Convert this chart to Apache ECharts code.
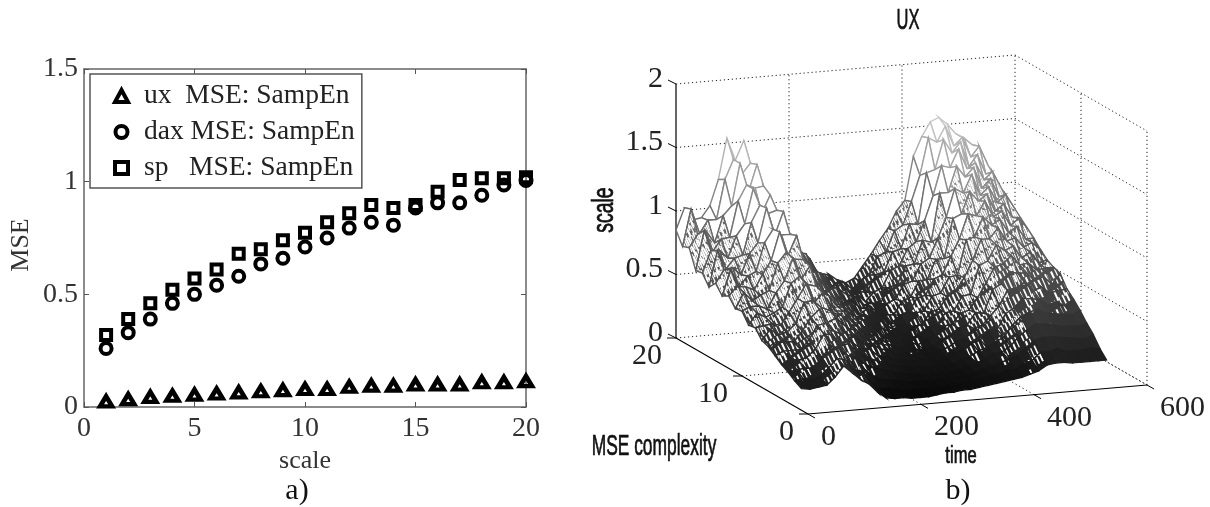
<!DOCTYPE html>
<html><head><meta charset="utf-8">
<style>html,body{margin:0;padding:0;background:#fff}#c{width:1210px;height:507px}</style>
<script src="https://cdn.jsdelivr.net/npm/echarts@6/dist/echarts.min.js"></script>
</head><body><div id="c"></div>
<script>
const scales=[1,2,3,4,5,6,7,8,9,10,11,12,13,14,15,16,17,18,19,20];
const uxMSE=[.025,.035,.045,.05,.055,.06,.065,.07,.075,.08,.08,.09,.095,.095,.10,.10,.10,.11,.11,.115];
const daxMSE=[.26,.33,.39,.46,.50,.54,.58,.635,.66,.71,.75,.794,.82,.807,.883,.906,.906,.94,.985,1.005];
const spMSE=[.32,.39,.46,.52,.57,.61,.68,.70,.74,.773,.82,.86,.896,.883,.896,.955,1.007,1.015,1.015,1.02];
const seriesNames=['ux  MSE: SampEn','dax MSE: SampEn','sp   MSE: SampEn'];
const xTicks3D=[0,200,400,600], yTicks3D=[0,10,20], zTicks3D=[0,.5,1,1.5,2];
const timeSamples=[0,15,30,45,60,75,90,105,120,135,150,165,180,195,210,225,240,255,270,285,300,315,330,345,360,375,390,405,420,435,450,465,480,495,510,525,540];
const surfaceZ=[
[.17,.16,.17,.18,.24,.32,.26,.20,.16,.09,.04,.03,.03,.02,.02,.02,.03,.04,.04,.05,.05,.06,.07,.08,.09,.10,.11,.13,.15,.19,.20,.20,.19,.19,.19,.19,.19],
[.20,.21,.20,.22,.28,.35,.33,.25,.23,.14,.08,.08,.07,.05,.05,.05,.05,.05,.06,.07,.07,.07,.09,.11,.11,.14,.14,.18,.20,.26,.26,.28,.25,.25,.25,.26,.25],
[.24,.25,.26,.25,.33,.42,.39,.33,.31,.21,.15,.12,.11,.10,.08,.08,.08,.08,.08,.09,.08,.09,.11,.13,.15,.17,.19,.21,.27,.32,.34,.34,.33,.32,.31,.30,.33],
[.27,.31,.29,.31,.37,.48,.47,.38,.39,.26,.21,.18,.16,.14,.12,.11,.10,.10,.09,.10,.09,.11,.13,.15,.17,.21,.22,.26,.33,.38,.42,.41,.40,.38,.38,.37,.39],
[.31,.34,.34,.34,.41,.52,.53,.46,.43,.33,.27,.23,.20,.18,.15,.14,.13,.12,.12,.12,.11,.12,.15,.17,.21,.23,.27,.30,.39,.45,.48,.50,.46,.45,.44,.43,.46],
[.35,.38,.38,.37,.45,.55,.61,.50,.53,.36,.32,.27,.26,.20,.19,.16,.15,.14,.15,.13,.12,.14,.18,.19,.24,.26,.32,.33,.45,.49,.56,.55,.54,.49,.51,.47,.52],
[.37,.45,.40,.42,.48,.64,.65,.59,.56,.44,.36,.34,.28,.27,.22,.21,.17,.17,.15,.16,.13,.17,.19,.23,.25,.32,.34,.41,.48,.60,.61,.65,.58,.60,.55,.56,.57],
[.44,.45,.46,.44,.54,.64,.75,.60,.67,.47,.43,.37,.35,.28,.26,.22,.21,.18,.19,.16,.15,.17,.22,.24,.30,.32,.41,.40,.58,.62,.71,.69,.69,.62,.65,.58,.66],
[.43,.52,.48,.51,.55,.73,.78,.71,.69,.56,.47,.44,.37,.34,.28,.26,.21,.21,.19,.19,.16,.20,.22,.29,.30,.38,.40,.49,.60,.72,.74,.80,.72,.73,.67,.68,.68],
[.51,.54,.54,.51,.63,.72,.89,.72,.82,.58,.55,.45,.44,.35,.33,.27,.26,.20,.22,.18,.19,.19,.26,.27,.36,.37,.48,.49,.71,.74,.86,.81,.84,.74,.78,.69,.71],
[.50,.62,.55,.59,.62,.83,.91,.85,.84,.69,.57,.54,.45,.43,.34,.33,.25,.26,.22,.22,.18,.24,.25,.34,.36,.45,.49,.59,.72,.88,.88,.96,.85,.87,.79,.82,.76],
[.57,.64,.63,.60,.72,.82,1.04,.85,1.00,.68,.67,.55,.53,.43,.41,.32,.32,.23,.27,.21,.23,.22,.31,.32,.43,.45,.57,.58,.85,.87,1.02,.95,.99,.88,.92,.82,.82],
[.54,.74,.60,.68,.71,.93,1.03,.98,.98,.82,.67,.66,.51,.52,.40,.39,.30,.29,.25,.26,.21,.27,.29,.39,.41,.53,.56,.70,.83,1.02,1.00,1.11,.98,1.02,.90,.95,.87],
[.61,.71,.72,.66,.82,.90,1.17,.95,1.13,.79,.78,.64,.61,.49,.47,.37,.36,.27,.31,.23,.25,.24,.34,.37,.49,.50,.65,.65,.96,.99,1.16,1.08,1.13,.99,1.04,.93,.92],
[.55,.83,.68,.76,.78,1.03,1.16,1.09,1.11,.94,.76,.76,.60,.59,.46,.46,.34,.33,.28,.29,.23,.30,.33,.44,.46,.59,.63,.78,.94,1.16,1.12,1.26,1.09,1.15,1.02,1.08,.97],
[.63,.80,.80,.73,.90,.99,1.26,1.06,1.20,.90,.90,.73,.70,.57,.55,.43,.42,.31,.34,.27,.28,.27,.39,.41,.55,.56,.74,.72,1.10,1.10,1.30,1.21,1.28,1.11,1.18,1.03,1.02],
[.62,.93,.76,.85,.86,1.14,1.26,1.23,1.24,1.05,.87,.85,.69,.68,.53,.50,.39,.37,.32,.33,.26,.33,.36,.49,.52,.65,.70,.86,1.05,1.28,1.26,1.40,1.24,1.28,1.14,1.20,1.07],
[.77,.87,.89,.79,1.00,1.07,1.40,1.17,1.38,1.02,1.03,.81,.80,.65,.62,.48,.47,.35,.38,.30,.31,.30,.43,.45,.60,.62,.81,.80,1.20,1.22,1.45,1.34,1.42,1.22,1.31,1.15,1.13],
[.75,1.04,.84,.94,.94,1.25,1.40,1.28,1.36,1.18,.98,.97,.78,.75,.60,.57,.44,.41,.36,.36,.30,.36,.40,.54,.57,.73,.77,.95,1.15,1.44,1.40,1.52,1.36,1.42,1.26,1.34,1.19],
[.85,1.02,.92,.93,1.02,1.22,1.54,1.36,1.51,1.17,1.08,.97,.85,.76,.66,.57,.49,.40,.40,.35,.32,.35,.44,.53,.63,.72,.85,.93,1.27,1.42,1.53,1.56,1.50,1.42,1.38,1.32,1.25]
];

const view={ox:808,oy:414,tx:339/600,ty:-29/600,sx:-132/20,sy:-76/20,zy:-127};
const project=(t,s,z)=>[view.ox+t*view.tx+s*view.sx, view.oy+t*view.ty+s*view.sy+z*view.zy];
const greyLevel=z=>Math.max(0,Math.min(205,Math.round(z<1?6+112*z:118+170*(z-1))));
const rgb=v=>'rgb('+v+','+v+','+v+')';
const tileCache={};
const TILE=64;
function faceFill(e,z){
  const band=Math.floor(Math.max(0,e)*25),key=band+'_'+greyLevel(z);
  if(e<.15)return rgb(greyLevel(z));
  if(tileCache[key])return tileCache[key];
  const cv=document.createElement('canvas');cv.width=cv.height=TILE;
  const g=cv.getContext('2d');
  const white=e>=.9;
  g.fillStyle=white?'#fff':rgb(greyLevel(z));g.fillRect(0,0,TILE,TILE);
  if(!white){
    const cover=Math.min(.68,(band/25-.12)*1.2),n=Math.round(cover*TILE*TILE/10);
    g.strokeStyle='#fff';g.lineCap='butt';
    for(let k=1;k<=n;k++){const x=(k*.618034%1)*TILE,y=(k*.754878%1)*TILE,l=1+(k%4)*.35;
      g.lineWidth=1.2+(k%3)*.4;
      [[0,0],[-TILE,0],[0,-TILE],[-TILE,-TILE]].forEach(o=>{g.beginPath();g.moveTo(x+o[0],y+o[1]);g.lineTo(x+o[0]+2.3*l,y+o[1]+5*l);g.stroke();});}
  }
  return tileCache[key]={image:cv,repeat:'repeat'};
}

const cells=[];
for(let i=surfaceZ.length-1;i>0;i--){for(let j=timeSamples.length-2;j>=0;j--){
  const a=project(timeSamples[j],scales[i],surfaceZ[i][j]);cells.push([a[0],a[1],i,j]);
}}
const segs=[];
const wall=(a,b,dot)=>{segs.push([...project(...a),...project(...b),dot]);};
const tMax=600,sMax=20,zMax=2;
zTicks3D.forEach(z=>{wall([0,sMax,z],[tMax,sMax,z],1);wall([tMax,sMax,z],[tMax,0,z],1);});
xTicks3D.slice(1).forEach(t=>{wall([t,sMax,0],[t,sMax,zMax],1);wall([t,0,0],[t,sMax,0],1);});
yTicks3D.slice(0,2).forEach(s=>{wall([tMax,s,0],[tMax,s,zMax],1);wall([0,s,0],[tMax,s,0],s?1:0);});
wall([0,sMax,0],[0,sMax,zMax],0);
wall([0,0,0],[0,sMax,0],0);
const tickSegs=[];
const tickLabels=[];
zTicks3D.forEach(z=>{const p=project(0,sMax,z);tickSegs.push([p[0],p[1],p[0]-8,p[1]-4]);tickLabels.push([p[0]-13,p[1]-5,String(z),'right']);});
yTicks3D.forEach(s=>{const p=project(0,s,0);tickSegs.push([p[0],p[1],p[0]-9,p[1]]);tickLabels.push([p[0]-14,p[1]+18,String(s),'right']);});
xTicks3D.forEach(t=>{const p=project(t,0,0);tickSegs.push([p[0],p[1],p[0]+7,p[1]+4]);tickLabels.push([p[0]+13,p[1]+23,String(t),'left']);});

const serif='"Liberation Serif"';
const axisCommon={min:0,axisLine:{show:true,onZero:false,lineStyle:{color:'#666',width:1.5}},axisTick:{show:true,inside:true,length:5,lineStyle:{color:'#555'}},splitLine:{show:false},
  axisLabel:{fontFamily:serif,fontSize:28,color:'#333'}};
const markerStyle={color:'transparent',borderColor:'#000',borderWidth:4,opacity:1};
const narrow=(text,x,y,size,sx,rot,lw)=>({type:'text',x,y,scaleX:sx,rotation:rot||0,silent:true,
  style:{text,font:size+'px "Liberation Sans"',fill:'#111',stroke:'#111',lineWidth:lw==null?.7:lw,textAlign:'center',textVerticalAlign:'middle'}});
const chart=echarts.init(document.getElementById('c'),null,{renderer:'canvas'});
chart.setOption({
  animation:false,backgroundColor:'#fff',
  grid:[{left:84,top:69,width:442,height:338},{left:0,top:0,width:1210,height:507}],
  xAxis:[
    {...axisCommon,type:'value',max:20,interval:5,position:'bottom',name:'scale',nameLocation:'middle',nameGap:40,nameTextStyle:{fontFamily:serif,fontSize:26,color:'#333'},axisLabel:{...axisCommon.axisLabel,margin:8}},
    {...axisCommon,type:'value',max:20,interval:5,position:'top',axisLabel:{show:false}},
    {type:'value',gridIndex:1,min:0,max:1210,show:false}
  ],
  yAxis:[
    {...axisCommon,type:'value',max:1.5,interval:.5,position:'left',name:'MSE',nameLocation:'middle',nameGap:50,nameTextStyle:{fontFamily:serif,fontSize:26,color:'#333',padding:[0,14,0,0]},axisLabel:{...axisCommon.axisLabel,margin:6}},
    {...axisCommon,type:'value',max:1.5,interval:.5,position:'right',axisLabel:{show:false}},
    {type:'value',gridIndex:1,min:0,max:507,inverse:true,show:false}
  ],
  legend:{orient:'vertical',left:90,top:74,padding:[8,7,6,23],itemWidth:13,itemHeight:12,itemGap:8,
    borderColor:'#555',borderWidth:1.5,backgroundColor:'#fff',borderRadius:0,z:5,
    itemStyle:{color:'transparent',borderColor:'#000',borderWidth:4},
    textStyle:{fontFamily:serif,fontSize:27.5,color:'#222',padding:[0,0,0,11]},
    data:seriesNames},
  graphic:[
    {type:'text',x:297,y:491,silent:true,style:{text:'a)',font:'30px '+serif,fill:'#111',textAlign:'center',textVerticalAlign:'middle'}},
    {type:'text',x:958,y:491,silent:true,style:{text:'b)',font:'30px '+serif,fill:'#111',textAlign:'center',textVerticalAlign:'middle'}},
    narrow('UX',908,21,30,.55),
    narrow('scale',605,210,29,.67,Math.PI/2),
    narrow('MSE complexity',654,447,29,.6),
    narrow('time',961,457,23,.72)
  ],
  series:[
    {type:'custom',xAxisIndex:2,yAxisIndex:2,silent:true,clip:false,z:1,data:segs,
     encode:{x:0,y:1},
     renderItem:(p,api)=>{const a=api.coord([api.value(0),api.value(1)]),b=api.coord([api.value(2),api.value(3)]),dot=api.value(4);
       return {type:'line',shape:{x1:a[0],y1:a[1],x2:b[0],y2:b[1]},style:{stroke:dot?'#222':'#000',lineWidth:dot?1:1.2,lineDash:dot?[1.2,2.8]:null}};}},
    {type:'custom',xAxisIndex:2,yAxisIndex:2,silent:true,clip:false,z:2,progressive:0,data:cells,
     encode:{x:0,y:1},
     renderItem:(p,api)=>{const i=api.value(2),j=api.value(3);
       const c=[[j,i],[j+1,i],[j+1,i-1],[j,i-1]].map(q=>api.coord(project(timeSamples[q[0]],scales[q[1]],surfaceZ[q[1]][q[0]])));
       const z=(surfaceZ[i][j]+surfaceZ[i][j+1]+surfaceZ[i-1][j]+surfaceZ[i-1][j+1])/4;
       const e=timeSamples[j]>=435?z-.28:z;
       return {type:'polygon',shape:{points:c},style:{fill:faceFill(e,z),stroke:rgb(greyLevel(z)),lineWidth:1.4}};}},
    {type:'custom',xAxisIndex:2,yAxisIndex:2,silent:true,clip:false,z:3,data:tickSegs,encode:{x:0,y:1},
     renderItem:(p,api)=>{const a=api.coord([api.value(0),api.value(1)]),b=api.coord([api.value(2),api.value(3)]);
       return {type:'line',shape:{x1:a[0],y1:a[1],x2:b[0],y2:b[1]},style:{stroke:'#000',lineWidth:1}};}},
    {type:'custom',xAxisIndex:2,yAxisIndex:2,silent:true,clip:false,z:3,encode:{x:0,y:1},
     data:tickLabels.map(l=>[l[0],l[1]]),
     renderItem:(p,api)=>{const a=api.coord([api.value(0),api.value(1)]),l=tickLabels[p.dataIndex];
       return {type:'text',x:a[0],y:a[1],style:{text:l[2],font:'30px '+serif,fill:'#222',textAlign:l[3],textVerticalAlign:'middle'}};}},
    {type:'scatter',name:seriesNames[0],xAxisIndex:0,yAxisIndex:0,symbol:'triangle',symbolSize:[12,10],itemStyle:{...markerStyle,borderWidth:4.5},data:scales.map((x,i)=>[x,uxMSE[i]]),clip:false,z:4},
    {type:'scatter',name:seriesNames[1],xAxisIndex:0,yAxisIndex:0,symbol:'circle',symbolSize:11,itemStyle:markerStyle,data:scales.map((x,i)=>[x,daxMSE[i]]),clip:false,z:4},
    {type:'scatter',name:seriesNames[2],xAxisIndex:0,yAxisIndex:0,symbol:'rect',symbolSize:10,itemStyle:markerStyle,data:scales.map((x,i)=>[x,spMSE[i]]),clip:false,z:4}
  ]
});
</script></body></html>
